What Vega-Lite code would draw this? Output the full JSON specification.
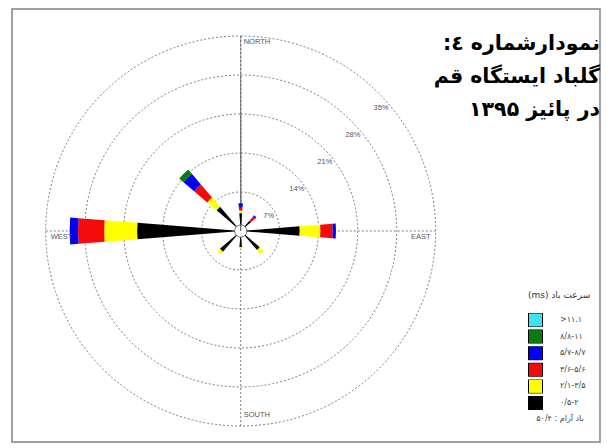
{
  "$schema": "https://vega.github.io/schema/vega-lite/v6.json",
  "width": 607,
  "height": 448,
  "autosize": "none",
  "padding": 0,
  "background": "white",
  "config": {"view": {"stroke": null}},
  "datasets": {
    "petals": [
      {"dir": 0, "b": 1, "speed": "۰/۵-۲", "freq": 3.2},
      {"dir": 0, "b": 2, "speed": "۲/۱-۳/۵", "freq": 0.5},
      {"dir": 0, "b": 3, "speed": "۳/۶-۵/۶", "freq": 0.5},
      {"dir": 0, "b": 4, "speed": "۵/۷-۸/۷", "freq": 0.8},
      {"dir": 45, "b": 1, "speed": "۰/۵-۲", "freq": 2.4},
      {"dir": 45, "b": 3, "speed": "۳/۶-۵/۶", "freq": 1.0},
      {"dir": 45, "b": 4, "speed": "۵/۷-۸/۷", "freq": 0.3},
      {"dir": 90, "b": 1, "speed": "۰/۵-۲", "freq": 10.6},
      {"dir": 90, "b": 2, "speed": "۲/۱-۳/۵", "freq": 3.7},
      {"dir": 90, "b": 3, "speed": "۳/۶-۵/۶", "freq": 2.2},
      {"dir": 90, "b": 4, "speed": "۵/۷-۸/۷", "freq": 0.6},
      {"dir": 135, "b": 1, "speed": "۰/۵-۲", "freq": 4.5},
      {"dir": 135, "b": 2, "speed": "۲/۱-۳/۵", "freq": 1.0},
      {"dir": 180, "b": 1, "speed": "۰/۵-۲", "freq": 2.9},
      {"dir": 180, "b": 2, "speed": "۲/۱-۳/۵", "freq": 0.3},
      {"dir": 225, "b": 1, "speed": "۰/۵-۲", "freq": 4.9},
      {"dir": 225, "b": 2, "speed": "۲/۱-۳/۵", "freq": 0.6},
      {"dir": 270, "b": 1, "speed": "۰/۵-۲", "freq": 18.6},
      {"dir": 270, "b": 2, "speed": "۲/۱-۳/۵", "freq": 5.9},
      {"dir": 270, "b": 3, "speed": "۳/۶-۵/۶", "freq": 4.7},
      {"dir": 270, "b": 4, "speed": "۵/۷-۸/۷", "freq": 1.5},
      {"dir": 315, "b": 1, "speed": "۰/۵-۲", "freq": 5.7},
      {"dir": 315, "b": 2, "speed": "۲/۱-۳/۵", "freq": 2.2},
      {"dir": 315, "b": 3, "speed": "۳/۶-۵/۶", "freq": 3.1},
      {"dir": 315, "b": 4, "speed": "۵/۷-۸/۷", "freq": 2.5},
      {"dir": 315, "b": 5, "speed": "۸/۸-۱۱", "freq": 1.0}
    ],
    "rings": [
      {"r": 7, "label": "7%"},
      {"r": 14, "label": "14%"},
      {"r": 21, "label": "21%"},
      {"r": 28, "label": "28%"},
      {"r": 35, "label": "35%"}
    ],
    "one": [{}]
  },
  "layer": [
    {
      "data": {"name": "one"},
      "mark": {"type": "rect", "filled": false, "stroke": "#a0a0a0", "strokeWidth": 2},
      "encoding": {
        "x": {"datum": -41.06, "type": "quantitative", "scale": {"domain": [-43.214, 65.763], "nice": false, "zero": false}, "axis": null},
        "x2": {"datum": 64.5},
        "y": {"datum": 39.86, "type": "quantitative", "scale": {"domain": [-38.959, 41.472], "nice": false, "zero": false}, "axis": null},
        "y2": {"datum": -37.88}
      }
    },
    {
      "data": {"name": "rings"},
      "mark": {"type": "arc", "filled": false, "stroke": "#6e6e6e", "strokeWidth": 0.9, "strokeDash": [2, 2]},
      "encoding": {
        "x": {"datum": 0, "type": "quantitative"},
        "y": {"datum": 0, "type": "quantitative"},
        "theta": {"datum": 0, "type": "quantitative", "scale": {"type": "linear", "domain": [0, 360], "range": [0, 6.283185]}},
        "theta2": {"datum": 360},
        "radius": {"field": "r", "type": "quantitative", "stack": null, "scale": {"type": "linear", "domain": [0, 35], "range": [0, 195], "zero": true}}
      }
    },
    {
      "data": {"name": "one"},
      "mark": {"type": "rule", "stroke": "#6e6e6e", "strokeWidth": 0.9, "strokeDash": [2, 2]},
      "encoding": {
        "x": {"datum": -35, "type": "quantitative"},
        "x2": {"datum": 35},
        "y": {"datum": 0, "type": "quantitative"}
      }
    },
    {
      "data": {"name": "one"},
      "mark": {"type": "rule", "stroke": "#6e6e6e", "strokeWidth": 0.9, "strokeDash": [2, 2]},
      "encoding": {
        "x": {"datum": 0, "type": "quantitative"},
        "y": {"datum": 35, "type": "quantitative"},
        "y2": {"datum": -35}
      }
    },
    {
      "data": {"name": "petals"},
      "transform": [
        {"stack": "freq", "groupby": ["dir"], "sort": [{"field": "b", "order": "ascending"}], "as": ["r0", "r1"]}
      ],
      "mark": {"type": "arc", "thetaOffset": -0.0785, "theta2Offset": 0.0785},
      "encoding": {
        "x": {"datum": 0, "type": "quantitative"},
        "y": {"datum": 0, "type": "quantitative"},
        "theta": {"field": "dir", "type": "quantitative"},
        "theta2": {"field": "dir"},
        "radius": {"field": "r1", "type": "quantitative", "stack": null},
        "radius2": {"field": "r0"},
        "color": {
          "field": "speed",
          "type": "nominal",
          "scale": {
            "domain": [">۱۱.۱", "۸/۸-۱۱", "۵/۷-۸/۷", "۳/۶-۵/۶", "۲/۱-۳/۵", "۰/۵-۲"],
            "range": ["#3fe3ee", "#0b7a12", "#0000f5", "#f50a0a", "#ffff00", "#000000"]
          },
          "legend": {
            "orient": "none",
            "legendX": 528,
            "legendY": 291,
            "title": "‎(ms) سرعت باد",
            "titleFont": "DejaVu Sans",
            "titleFontSize": 9,
            "titleFontWeight": "normal",
            "titleColor": "#333",
            "titlePadding": 13,
            "labelFont": "DejaVu Sans",
            "labelFontSize": 8,
            "labelColor": "#444",
            "labelOffset": 17,
            "symbolType": "square",
            "symbolSize": 196,
            "symbolStrokeColor": "#000",
            "symbolStrokeWidth": 1,
            "symbolOpacity": 1,
            "clipHeight": 14,
            "rowPadding": 2.6,
            "padding": 0
          }
        }
      }
    },
    {
      "data": {"name": "one"},
      "mark": {"type": "arc", "fill": "white", "stroke": "#555", "strokeWidth": 0.8},
      "encoding": {
        "x": {"datum": 0, "type": "quantitative"},
        "y": {"datum": 0, "type": "quantitative"},
        "theta": {"datum": 0, "type": "quantitative"},
        "theta2": {"datum": 360},
        "radius": {"datum": 1.1, "type": "quantitative", "stack": null}
      }
    },
    {
      "data": {"name": "rings"},
      "mark": {"type": "text", "fontSize": 7.5, "font": "Liberation Sans", "fill": "#555", "align": "center", "baseline": "middle", "dy": 12},
      "encoding": {
        "x": {"datum": 0, "type": "quantitative"},
        "y": {"datum": 0, "type": "quantitative"},
        "theta": {"datum": 46, "type": "quantitative"},
        "radius": {"field": "r", "type": "quantitative", "stack": null},
        "text": {"field": "label"}
      }
    },
    {
      "data": {"name": "one"},
      "mark": {"type": "text", "text": "NORTH", "fontSize": 7.5, "font": "Liberation Sans", "fill": "#555", "align": "left", "baseline": "middle", "dx": 3},
      "encoding": {"x": {"datum": 0, "type": "quantitative"}, "y": {"datum": 33.9, "type": "quantitative"}}
    },
    {
      "data": {"name": "one"},
      "mark": {"type": "text", "text": "SOUTH", "fontSize": 7.5, "font": "Liberation Sans", "fill": "#555", "align": "left", "baseline": "middle", "dx": 3},
      "encoding": {"x": {"datum": 0, "type": "quantitative"}, "y": {"datum": -33.0, "type": "quantitative"}}
    },
    {
      "data": {"name": "one"},
      "mark": {"type": "text", "text": "EAST", "fontSize": 7.5, "font": "Liberation Sans", "fill": "#555", "align": "right", "baseline": "middle", "dy": 6},
      "encoding": {"x": {"datum": 34.1, "type": "quantitative"}, "y": {"datum": 0, "type": "quantitative"}}
    },
    {
      "data": {"name": "one"},
      "mark": {"type": "text", "text": "WEST", "fontSize": 7.5, "font": "Liberation Sans", "fill": "#555", "align": "left", "baseline": "middle", "dy": 6},
      "encoding": {"x": {"datum": -34.1, "type": "quantitative"}, "y": {"datum": 0, "type": "quantitative"}}
    },
    {
      "data": {"name": "one"},
      "mark": {
        "type": "text",
        "text": ["‏نمودارشماره ٤:‏", "گلباد ایستگاه قم", "در پائیز ۱۳۹۵"],
        "font": "DejaVu Sans",
        "fontSize": 20.5,
        "fontWeight": "bold",
        "lineHeight": 33,
        "fill": "#000",
        "align": "right",
        "baseline": "alphabetic"
      },
      "encoding": {"x": {"datum": 64.5, "type": "quantitative"}, "y": {"datum": 32.5, "type": "quantitative"}}
    },
    {
      "data": {"name": "one"},
      "mark": {"type": "text", "text": "باد آرام : ۵۰/۴", "font": "DejaVu Sans", "fontSize": 8, "fill": "#444", "align": "center", "baseline": "middle"},
      "encoding": {"x": {"datum": 57.33, "type": "quantitative"}, "y": {"datum": -33.7, "type": "quantitative"}}
    }
  ]
}
